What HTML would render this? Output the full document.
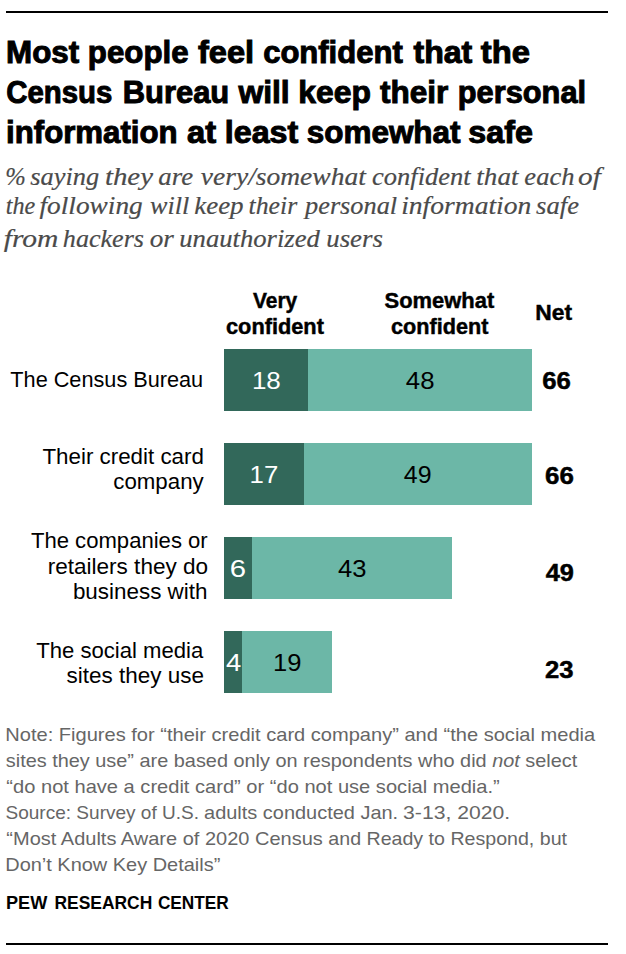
<!DOCTYPE html>
<html lang="en">
<head>
<meta charset="utf-8">
<title>Most people feel confident that the Census Bureau will keep their personal information at least somewhat safe</title>
<style>
html,body{margin:0;padding:0;background:#fff;}
body{width:626px;height:954px;overflow:hidden;}
svg{display:block;}
.t{font-family:"Liberation Sans",Arial,sans-serif;font-weight:bold;fill:#000;stroke:#000;stroke-width:1.0px;}
.s{font-family:"Liberation Serif","Times New Roman",serif;font-style:italic;fill:#4a4a4a;stroke:#4a4a4a;stroke-width:0.2px;}
.h{font-family:"Liberation Sans",Arial,sans-serif;font-weight:bold;fill:#000;stroke:#000;stroke-width:0.45px;}
.v{font-family:"Liberation Sans",Arial,sans-serif;fill:#000;}
.w{fill:#fff;}
.l{font-family:"Liberation Sans",Arial,sans-serif;fill:#000;}
.n{font-family:"Liberation Sans",Arial,sans-serif;fill:#666;}
.p{font-family:"Liberation Sans",Arial,sans-serif;font-weight:bold;fill:#000;}
</style>
</head>
<body>
<svg width="626" height="954" viewBox="0 0 626 954">
  <rect x="6" y="11" width="602" height="2" fill="#000"/>

  <!-- Title -->
  <g class="t" font-size="31.7">
    <text y="63"><tspan id="t1w0" x="6.12" textLength="73.14" lengthAdjust="spacingAndGlyphs">Most</tspan> <tspan id="t1w1" x="87.84" textLength="100.71" lengthAdjust="spacingAndGlyphs">people</tspan> <tspan id="t1w2" x="197.91" textLength="56.18" lengthAdjust="spacingAndGlyphs">feel</tspan> <tspan id="t1w3" x="263.14" textLength="139.60" lengthAdjust="spacingAndGlyphs">confident</tspan> <tspan id="t1w4" x="413.44" textLength="58.88" lengthAdjust="spacingAndGlyphs">that</tspan> <tspan id="t1w5" x="480.80" textLength="49.15" lengthAdjust="spacingAndGlyphs">the</tspan></text>
    <text y="103"><tspan id="t2w0" x="6.20" textLength="106.04" lengthAdjust="spacingAndGlyphs">Census</tspan> <tspan id="t2w1" x="122.77" textLength="106.50" lengthAdjust="spacingAndGlyphs">Bureau</tspan> <tspan id="t2w2" x="238.44" textLength="51.22" lengthAdjust="spacingAndGlyphs">will</tspan> <tspan id="t2w3" x="298.33" textLength="72.62" lengthAdjust="spacingAndGlyphs">keep</tspan> <tspan id="t2w4" x="379.93" textLength="68.29" lengthAdjust="spacingAndGlyphs">their</tspan> <tspan id="t2w5" x="457.84" textLength="128.21" lengthAdjust="spacingAndGlyphs">personal</tspan></text>
    <text y="143"><tspan id="t3w0" x="6.07" textLength="171.55" lengthAdjust="spacingAndGlyphs">information</tspan> <tspan id="t3w1" x="187.08" textLength="29.16" lengthAdjust="spacingAndGlyphs">at</tspan> <tspan id="t3w2" x="224.75" textLength="73.53" lengthAdjust="spacingAndGlyphs">least</tspan> <tspan id="t3w3" x="306.71" textLength="153.85" lengthAdjust="spacingAndGlyphs">somewhat</tspan> <tspan id="t3w4" x="468.25" textLength="64.62" lengthAdjust="spacingAndGlyphs">safe</tspan></text>
  </g>

  <!-- Subtitle -->
  <g class="s" font-size="26">
    <text y="184.7"><tspan id="s1w0" x="5.31" textLength="20.56" lengthAdjust="spacingAndGlyphs">%</tspan> <tspan id="s1w1" x="30.27" textLength="68.96" lengthAdjust="spacingAndGlyphs">saying</tspan> <tspan id="s1w2" x="104.90" textLength="48.11" lengthAdjust="spacingAndGlyphs">they</tspan> <tspan id="s1w3" x="158.30" textLength="34.76" lengthAdjust="spacingAndGlyphs">are</tspan> <tspan id="s1w4" x="200.80" textLength="165.04" lengthAdjust="spacingAndGlyphs">very/somewhat</tspan> <tspan id="s1w5" x="372.03" textLength="98.60" lengthAdjust="spacingAndGlyphs">confident</tspan> <tspan id="s1w6" x="476.37" textLength="42.04" lengthAdjust="spacingAndGlyphs">that</tspan> <tspan id="s1w7" x="524.39" textLength="50.02" lengthAdjust="spacingAndGlyphs">each</tspan> <tspan id="s1w8" x="578.14" textLength="22.75" lengthAdjust="spacingAndGlyphs">of</tspan></text>
    <text y="214.4"><tspan id="s2w0" x="5.68" textLength="29.49" lengthAdjust="spacingAndGlyphs">the</tspan> <tspan id="s2w1" x="39.52" textLength="103.19" lengthAdjust="spacingAndGlyphs">following</tspan> <tspan id="s2w2" x="150.07" textLength="39.22" lengthAdjust="spacingAndGlyphs">will</tspan> <tspan id="s2w3" x="194.19" textLength="49.40" lengthAdjust="spacingAndGlyphs">keep</tspan> <tspan id="s2w4" x="248.53" textLength="48.68" lengthAdjust="spacingAndGlyphs">their</tspan> <tspan id="s2w5" x="305.05" textLength="92.10" lengthAdjust="spacingAndGlyphs">personal</tspan> <tspan id="s2w6" x="401.19" textLength="130.08" lengthAdjust="spacingAndGlyphs">information</tspan> <tspan id="s2w7" x="536.14" textLength="42.82" lengthAdjust="spacingAndGlyphs">safe</tspan></text>
    <text y="246.5"><tspan id="s3w0" x="3.72" textLength="54.76" lengthAdjust="spacingAndGlyphs">from</tspan> <tspan id="s3w1" x="62.85" textLength="81.17" lengthAdjust="spacingAndGlyphs">hackers</tspan> <tspan id="s3w2" x="149.72" textLength="24.14" lengthAdjust="spacingAndGlyphs">or</tspan> <tspan id="s3w3" x="179.24" textLength="140.64" lengthAdjust="spacingAndGlyphs">unauthorized</tspan> <tspan id="s3w4" x="326.28" textLength="56.66" lengthAdjust="spacingAndGlyphs">users</tspan></text>
  </g>

  <!-- Column headers -->
  <g class="h" font-size="22">
    <text id="h1" x="252.93" y="308.0" textLength="44.27" lengthAdjust="spacingAndGlyphs">Very</text>
    <text id="h2" x="225.99" y="334.4" textLength="97.94" lengthAdjust="spacingAndGlyphs">confident</text>
    <text id="h3" x="384.52" y="308.0" textLength="109.74" lengthAdjust="spacingAndGlyphs">Somewhat</text>
    <text id="h4" x="390.99" y="333.8" textLength="97.36" lengthAdjust="spacingAndGlyphs">confident</text>
    <text id="h5" x="535.32" y="319.8" textLength="36.77" lengthAdjust="spacingAndGlyphs">Net</text>
  </g>

  <!-- Bars -->
  <g>
    <rect x="224" y="349" width="84" height="62" fill="#32685A"/>
    <rect x="308" y="349" width="224" height="62" fill="#6CB7A7"/>
    <rect x="224" y="443" width="80" height="62" fill="#32685A"/>
    <rect x="304" y="443" width="228" height="62" fill="#6CB7A7"/>
    <rect x="224" y="537" width="28" height="62" fill="#32685A"/>
    <rect x="252" y="537" width="200" height="62" fill="#6CB7A7"/>
    <rect x="224" y="631" width="18" height="62" fill="#32685A"/>
    <rect x="242" y="631" width="90" height="62" fill="#6CB7A7"/>
  </g>

  <!-- Bar values -->
  <g class="v" font-size="23.5">
    <text id="v1" x="251.92" y="389" textLength="28.93" lengthAdjust="spacingAndGlyphs" class="w">18</text>
    <text id="v2" x="405.85" y="389" textLength="28.65" lengthAdjust="spacingAndGlyphs">48</text>
    <text id="v3" x="249.64" y="483" textLength="28.65" lengthAdjust="spacingAndGlyphs" class="w">17</text>
    <text id="v4" x="403.79" y="483" textLength="27.75" lengthAdjust="spacingAndGlyphs">49</text>
    <text id="v5" x="229.85" y="577" textLength="16.34" lengthAdjust="spacingAndGlyphs" class="w">6</text>
    <text id="v6" x="338.13" y="577" textLength="28.47" lengthAdjust="spacingAndGlyphs">43</text>
    <text id="v7" x="226.07" y="671.2" textLength="15.25" lengthAdjust="spacingAndGlyphs" class="w">4</text>
    <text id="v8" x="273.06" y="671.2" textLength="28.43" lengthAdjust="spacingAndGlyphs">19</text>
  </g>

  <!-- Net values -->
  <g class="h" font-size="23">
    <text id="e1" x="542.15" y="389" textLength="28.67" lengthAdjust="spacingAndGlyphs">66</text>
    <text id="e2" x="545.10" y="484" textLength="28.88" lengthAdjust="spacingAndGlyphs">66</text>
    <text id="e3" x="545.65" y="580.9" textLength="28.22" lengthAdjust="spacingAndGlyphs">49</text>
    <text id="e4" x="544.94" y="677.8" textLength="28.55" lengthAdjust="spacingAndGlyphs">23</text>
  </g>

  <!-- Row labels -->
  <g class="l" font-size="22.8">
    <text id="l1" x="10.34" y="386.9" textLength="192.84" lengthAdjust="spacingAndGlyphs">The Census Bureau</text>
    <text id="l2" x="42.40" y="464" textLength="161.54" lengthAdjust="spacingAndGlyphs">Their credit card</text>
    <text id="l3" x="113.26" y="489.2" textLength="90.45" lengthAdjust="spacingAndGlyphs">company</text>
    <text id="l4" x="30.93" y="547.7" textLength="176.81" lengthAdjust="spacingAndGlyphs">The companies or</text>
    <text id="l5" x="47.63" y="573.6" textLength="160.49" lengthAdjust="spacingAndGlyphs">retailers they do</text>
    <text id="l6" x="72.88" y="599.1" textLength="134.57" lengthAdjust="spacingAndGlyphs">business with</text>
    <text id="l7" x="36.16" y="657.5" textLength="167.12" lengthAdjust="spacingAndGlyphs">The social media</text>
    <text id="l8" x="66.55" y="683" textLength="137.33" lengthAdjust="spacingAndGlyphs">sites they use</text>
  </g>

  <!-- Notes -->
  <g class="n" font-size="18.4">
    <text id="n1" x="5.25" y="740.7" textLength="589.95" lengthAdjust="spacingAndGlyphs">Note: Figures for “their credit card company” and “the social media</text>
    <text id="n2" x="5.80" y="766.7" textLength="571.47" lengthAdjust="spacingAndGlyphs">sites they use” are based only on respondents who did <tspan font-style="italic">not</tspan> select</text>
    <text id="n3" x="6.37" y="792.7" textLength="493.42" lengthAdjust="spacingAndGlyphs">“do not have a credit card” or “do not use social media.”</text>
    <text y="818.8"><tspan id="n4a" x="5.51" textLength="193.53" lengthAdjust="spacingAndGlyphs">Source: Survey of U.S.</tspan> <tspan id="n4b" x="204.05" textLength="194.08" lengthAdjust="spacingAndGlyphs">adults conducted Jan.</tspan> <tspan id="n4c" x="403.12" textLength="106.95" lengthAdjust="spacingAndGlyphs">3-13, 2020.</tspan></text>
    <text y="844.8"><tspan id="n5a" x="6.39" textLength="316.40" lengthAdjust="spacingAndGlyphs">“Most Adults Aware of 2020 Census</tspan> <tspan id="n5b" x="328.39" textLength="238.63" lengthAdjust="spacingAndGlyphs">and Ready to Respond, but</tspan></text>
    <text id="n6" x="5.25" y="871" textLength="215.05" lengthAdjust="spacingAndGlyphs">Don’t Know Key Details”</text>
  </g>

  <g class="p" font-size="19.2">
    <text y="908.7"><tspan id="p1w0" x="5.96" textLength="41.34" lengthAdjust="spacingAndGlyphs">PEW</tspan> <tspan id="p1w1" x="54.44" textLength="97.82" lengthAdjust="spacingAndGlyphs">RESEARCH</tspan> <tspan id="p1w2" x="157.88" textLength="70.85" lengthAdjust="spacingAndGlyphs">CENTER</tspan></text>
  </g>

  <rect x="6" y="943" width="602" height="2" fill="#000"/>
</svg>
</body>
</html>
